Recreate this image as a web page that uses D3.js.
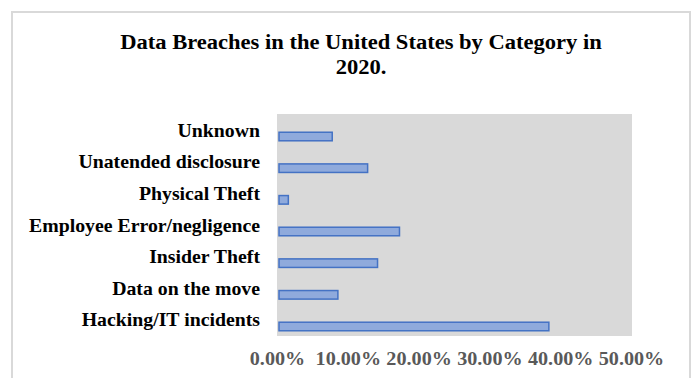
<!DOCTYPE html>
<html>
<head>
<meta charset="utf-8">
<script src="https://cdn.jsdelivr.net/npm/d3@7"></script>
<style>
  body { margin: 0; background: #fff; }
  svg { display: block; }
</style>
</head>
<body>
<svg></svg>
<script>
var categories = ["Unknown", "Unatended disclosure", "Physical Theft", "Employee Error/negligence",
                  "Insider Theft", "Data on the move", "Hacking/IT incidents"];
var shares = [0.078, 0.128, 0.016, 0.173, 0.142, 0.086, 0.384];
var ticks = [0, 0.1, 0.2, 0.3, 0.4, 0.5];

var width = 694, height = 378;
var serif = "'Liberation Serif', 'Times New Roman', serif";
var svg = d3.select("svg").attr("width", width).attr("height", height);

// chart frame
svg.append("rect")
    .attr("x", 12).attr("y", 12)
    .attr("width", 678).attr("height", 380)
    .attr("fill", "none")
    .attr("stroke", "#d9d9d9")
    .attr("stroke-width", 2);

// title (the source text is a little wider than Liberation Serif, so stretch it a bit)
var title = svg.append("g")
    .attr("transform", "translate(361,0) scale(1.025,1)")
    .append("text")
    .attr("text-anchor", "middle")
    .style("font-family", serif)
    .style("font-weight", "bold")
    .style("font-size", "22px")
    .attr("fill", "#000");
title.append("tspan").attr("x", 0).attr("y", 49).text("Data Breaches in the United States by Category in");
title.append("tspan").attr("x", 0).attr("y", 74).text("2020.");

var plot = {left: 277, right: 632, top: 114, bottom: 336};

var x = d3.scaleLinear().domain([0, 0.5]).range([plot.left, plot.right - 1]);
// bars sit a little low in the plot area, like the original
var y = d3.scaleBand().domain(categories).range([plot.top + 7, plot.bottom + 6])
    .paddingInner(0.73).paddingOuter(0.355);

svg.append("rect")
    .attr("x", plot.left).attr("y", plot.top)
    .attr("width", plot.right - plot.left).attr("height", plot.bottom - plot.top)
    .attr("fill", "#d9d9d9");

svg.append("g")
    .selectAll("rect")
    .data(shares)
    .enter().append("rect")
    .attr("x", x(0) + 2)
    .attr("y", function (d, i) { return y(categories[i]); })
    .attr("width", function (d) { return x(d) - x(0) - 2; })
    .attr("height", y.bandwidth())
    .attr("fill", "#8faadc")
    .attr("stroke", "#4472c4")
    .attr("stroke-width", 1.5);

// category labels
svg.append("g")
    .selectAll("text")
    .data(categories)
    .enter().append("text")
    .attr("transform", function (d) {
        return "translate(260," + (y(d) + y.bandwidth() / 2) + ") scale(1.1,1)";
    })
    .attr("text-anchor", "end")
    .style("font-family", serif)
    .style("font-weight", "bold")
    .style("font-size", "18px")
    .attr("fill", "#000")
    .text(function (d) { return d; });

// x axis labels
var xAxis = d3.axisBottom(x)
    .tickValues(ticks)
    .tickSize(0)
    .tickPadding(0)
    .tickFormat(function (d) { return (d * 100).toFixed(2) + "%"; });

var gx = svg.append("g")
    .attr("transform", "translate(0," + 352 + ")")
    .call(xAxis);
gx.select(".domain").remove();
gx.selectAll(".tick text")
    .attr("transform", "scale(1.12,1)")
    .style("font-family", serif)
    .style("font-weight", "bold")
    .style("font-size", "18px")
    .attr("fill", "#595959");
</script>
</body>
</html>
